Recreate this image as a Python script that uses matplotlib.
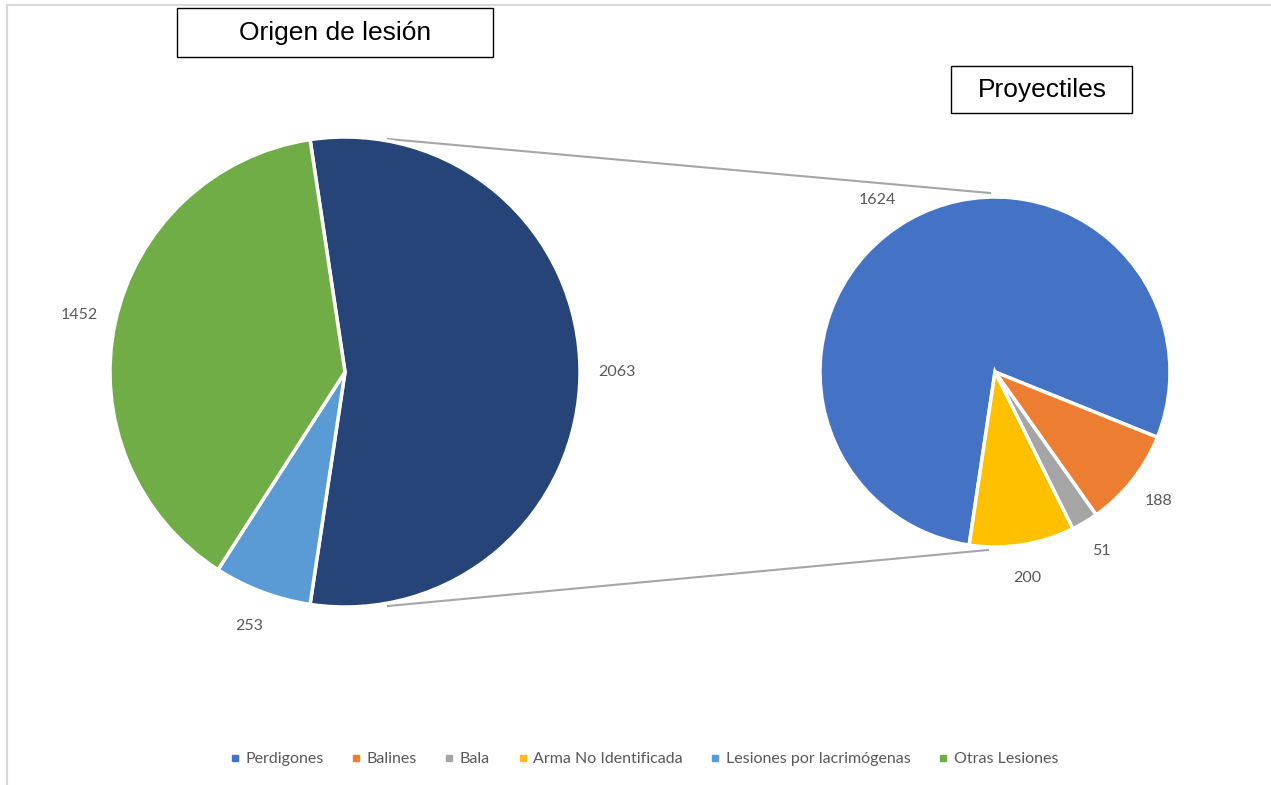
import matplotlib
matplotlib.use("Agg")
import matplotlib.pyplot as plt
from matplotlib.patches import Rectangle
from matplotlib.lines import Line2D

# main pie: origin of injury
main_labels = ['Proyectiles', 'Lesiones por lacrimógenas', 'Otras Lesiones']
main_values = [2063, 253, 1452]
main_colors = ['#264478', '#5B9BD5', '#70AD47']

# secondary pie: projectiles breakdown
sub_labels = ['Perdigones', 'Balines', 'Bala', 'Arma No Identificada']
sub_values = [1624, 188, 51, 200]
sub_colors = ['#4472C4', '#ED7D31', '#A5A5A5', '#FFC000']

legend_labels = ['Perdigones', 'Balines', 'Bala', 'Arma No Identificada',
                 'Lesiones por lacrimógenas', 'Otras Lesiones']
legend_colors = ['#4472C4', '#ED7D31', '#A5A5A5', '#FFC000', '#5B9BD5', '#70AD47']

W, H = 1271, 785
fig = plt.figure(figsize=(W / 100, H / 100), dpi=100)
ax = fig.add_axes([0, 0, 1, 1])

txt_color = '#595959'
wedge = dict(edgecolor='white', linewidth=2.5)
lbl_font = dict(color=txt_color, fontsize=11.5, family='Lato')

# left pie, first slice centred on the right side
tot = sum(main_values)
start_main = main_values[0] / tot * 360 / 2
_, texts1 = ax.pie(main_values, colors=main_colors, center=(345, H - 372), radius=235,
                   startangle=start_main, counterclock=False, wedgeprops=wedge,
                   labels=[str(v) for v in main_values], labeldistance=1.155,
                   textprops=lbl_font, frame=True)

# right pie, the small slices centred towards lower right
tot2 = sum(sub_values)
rest = sum(sub_values[1:]) / tot2 * 360
start_sub = -60.2 + rest / 2 + (360 - rest)
_, texts2 = ax.pie(sub_values, colors=sub_colors, center=(995, H - 372), radius=175,
                   startangle=start_sub, counterclock=False, wedgeprops=wedge,
                   labels=[str(v) for v in sub_values], labeldistance=1.19,
                   textprops=lbl_font, frame=True)
for t in texts1 + texts2:
    t.set_ha('center')
    t.set_va('center')
# the big slice label sits a bit further left in the original
x, y = texts2[0].get_position()
texts2[0].set_position((x - 14, y - 9))

ax.set_xlim(0, W)
ax.set_ylim(0, H)
ax.set_aspect('equal')
ax.axis('off')

# connector lines
ax.plot([388, 990], [H - 139, H - 193], color='#A6A6A6', lw=1.5, zorder=0)
ax.plot([388, 988], [H - 606, H - 550], color='#A6A6A6', lw=1.5, zorder=0)

# title boxes
ax.add_patch(Rectangle((177, H - 57), 316, 49, fill=False, edgecolor='black', lw=1))
ax.text(335, H - 33, 'Origen de lesión', ha='center', va='center',
        fontsize=19, family='Liberation Sans')
ax.add_patch(Rectangle((951, H - 113), 181, 47, fill=False, edgecolor='black', lw=1))
ax.text(1042, H - 90, 'Proyectiles', ha='center', va='center',
        fontsize=19, family='Liberation Sans')

# chart area border (left and top)
ax.plot([7, 7, W], [0, H - 5, H - 5], color='#D9D9D9', lw=1.5)

handles = [Line2D([], [], marker='s', linestyle='none', markersize=5,
                  markerfacecolor=c, markeredgecolor=c) for c in legend_colors]
fig.legend(handles, legend_labels, loc='center', bbox_to_anchor=(644 / W, 1 - 759 / H),
           ncol=6, frameon=False, handlelength=0.6, handletextpad=0.35,
           columnspacing=1.75, prop=dict(family='Lato', size=11.5),
           labelcolor=txt_color)

fig.savefig('out.png', dpi=100)
